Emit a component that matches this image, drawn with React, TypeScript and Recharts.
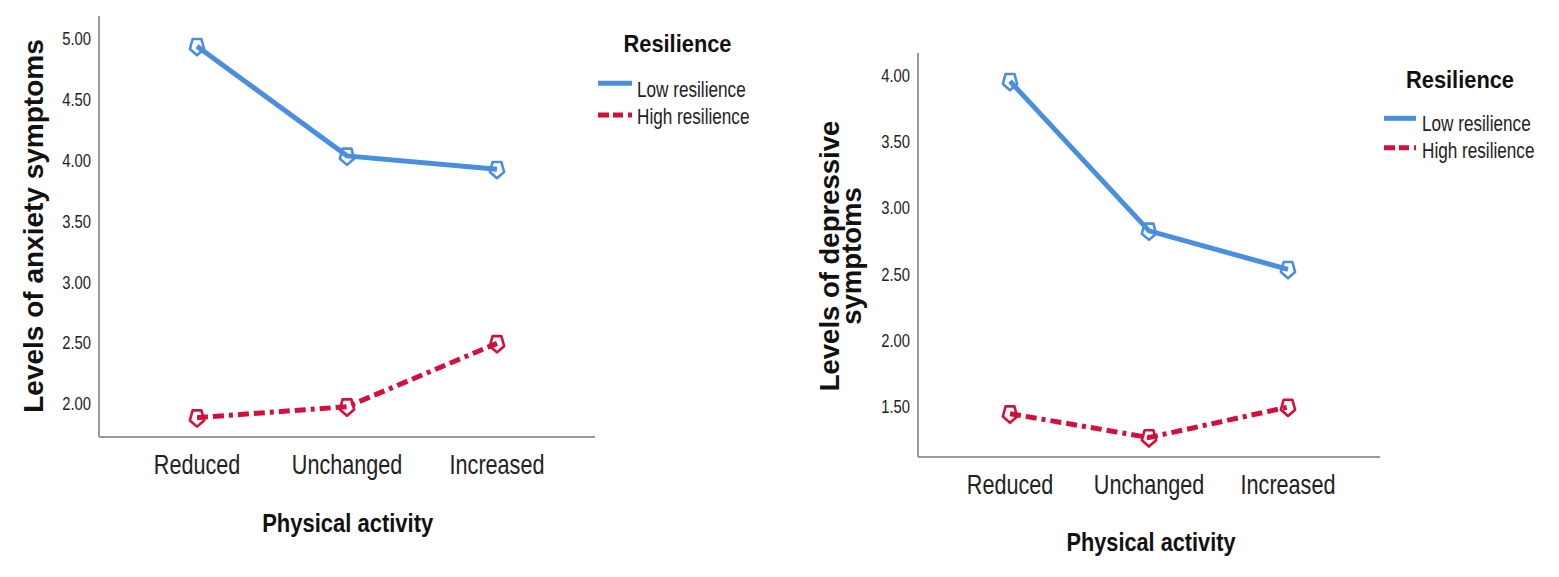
import React from 'react';
import { LineChart, Line, XAxis, YAxis, Legend } from 'recharts';

const categories = ['Reduced', 'Unchanged', 'Increased'];
const seriesNames = ['Low resilience', 'High resilience'];
const anxietyLow = [4.94, 4.04, 3.93];
const anxietyHigh = [1.89, 1.98, 2.5];
const depressLow = [3.96, 2.83, 2.54];
const depressHigh = [1.45, 1.27, 1.5];
const anxietyTicks = [2, 2.5, 3, 3.5, 4, 4.5, 5];
const depressTicks = [1.5, 2, 2.5, 3, 3.5, 4];
const anxietyDomain = [1.731, 5.189];
const depressDomain = [1.123, 4.173];

const anxietyData = categories.map((c, i) => ({ cat: c, low: anxietyLow[i], high: anxietyHigh[i] }));
const depressData = categories.map((c, i) => ({ cat: c, low: depressLow[i], high: depressHigh[i] }));

const BLUE = '#4a8fdf';
const RED = '#d3103c';
const RED_DASH = '11 5 11 5 4 5';
const FONT = '"Liberation Sans", Arial, Helvetica, sans-serif';

type STextProps = {
  x: number; y: number; size: number; weight?: number; sx?: number;
  anchor?: 'start' | 'middle' | 'end'; rotate?: boolean; fill?: string;
  baseline?: string; children: React.ReactNode;
};

const SText = ({ x, y, size, weight = 400, sx = 0.8, anchor = 'middle', rotate = false, fill = '#1a1a1a', baseline, children }: STextProps) => (
  <text
    transform={rotate ? `translate(${x},${y}) rotate(-90) scale(1,${sx})` : `translate(${x},${y}) scale(${sx},1)`}
    x={0}
    y={0}
    textAnchor={anchor}
    dominantBaseline={baseline as any}
    fontSize={size}
    fontWeight={weight}
    fontFamily={FONT}
    fill={fill}
  >
    {children}
  </text>
);

const Pent = ({ cx, cy, color }: { cx: number; cy: number; color: string }) => {
  const rx = 7.5;
  const ry = 9;
  const pts = [90, 162, 234, 306, 18]
    .map((a) => {
      const r = (a * Math.PI) / 180;
      return `${cx + rx * Math.cos(r)},${cy + ry * Math.sin(r)}`;
    })
    .join(' ');
  return <polygon points={pts} fill="none" stroke={color} strokeWidth={2.6} strokeLinejoin="round" />;
};

const makeDot = (color: string) => (p: any) => <Pent key={`d${p.index}`} cx={p.cx} cy={p.cy} color={color} />;

const XTick = (p: any) => (
  <SText x={p.x} y={p.y + 37} size={27} sx={0.8} fill="#222">
    {p.payload.value}
  </SText>
);

const YTick = (p: any) => (
  <SText x={p.x} y={p.y} size={18.5} sx={0.8} anchor="end" baseline="central" fill="#222">
    {Number(p.payload.value).toFixed(2)}
  </SText>
);

type LegendLayout = {
  left: number; top: number; titleX: number; titleY: number;
  lineX1: number; lineX2: number; textX: number;
  rows: { lineY: number; textY: number }[];
};

const makeLegend = (L: LegendLayout) => (props: any) => {
  const payload: any[] = props.payload || [];
  const items = seriesNames.map((name, i) => {
    const found = payload.find((p) => p.value === name);
    return { name, color: found ? found.color : i === 0 ? BLUE : RED, dashed: i === 1 };
  });
  return (
    <svg width={220} height={120} style={{ display: 'block', overflow: 'visible' }}>
      <SText x={L.titleX} y={L.titleY} size={23} weight={700} sx={0.95} fill="#111">
        Resilience
      </SText>
      {items.map((it, i) => (
        <g key={it.name}>
          <line
            x1={L.lineX1}
            x2={L.lineX2}
            y1={L.rows[i].lineY}
            y2={L.rows[i].lineY}
            stroke={it.color}
            strokeWidth={5}
            strokeDasharray={it.dashed ? '11 4 10 5 4' : undefined}
          />
          <SText x={L.textX} y={L.rows[i].textY} size={22} sx={0.78} anchor="start" fill="#222">
            {it.name}
          </SText>
        </g>
      ))}
    </svg>
  );
};

const leftLegend = makeLegend({
  left: 590, top: 20, titleX: 87.5, titleY: 31.7, lineX1: 8, lineX2: 42, textX: 47,
  rows: [{ lineY: 63.3, textY: 76.5 }, { lineY: 95, textY: 104 }],
});
const rightLegend = makeLegend({
  left: 600, top: 55, titleX: 80, titleY: 32.7, lineX1: 4, lineX2: 36, textX: 42,
  rows: [{ lineY: 63.3, textY: 76 }, { lineY: 92.7, textY: 103 }],
});

const axisStyle = { stroke: '#9a9a9a', strokeWidth: 2 };

export default function App() {
  return (
    <div style={{ position: 'absolute', left: 0, top: 0, width: 1559, height: 577, background: '#fff', overflow: 'hidden' }}>
      <div style={{ position: 'absolute', left: 0, top: 0 }}>
        <LineChart width={780} height={577} data={anxietyData} margin={{ top: 16, right: 185, bottom: 110, left: 0 }}>
          <XAxis
            dataKey="cat"
            type="category"
            scale="point"
            padding={{ left: 98, right: 98 }}
            height={30}
            axisLine={axisStyle}
            tickLine={false}
            tickSize={0}
            tickMargin={0}
            tick={XTick}
            interval={0}
            label={{
              content: () => (
                <SText x={347.7} y={531.7} size={26.5} weight={700} sx={0.83} fill="#111">
                  Physical activity
                </SText>
              ),
            }}
          />
          <YAxis
            type="number"
            domain={anxietyDomain}
            ticks={anxietyTicks}
            allowDataOverflow
            width={99}
            axisLine={axisStyle}
            tickLine={false}
            tickSize={0}
            tickMargin={8}
            tick={YTick}
            interval={0}
            label={{
              content: () => (
                <SText x={43} y={226} size={28} weight={700} sx={1} rotate fill="#111">
                  Levels of anxiety symptoms
                </SText>
              ),
            }}
          />
          <Legend
            layout="vertical"
            align="center"
            verticalAlign="middle"
            content={leftLegend}
            wrapperStyle={{ left: 590, top: 20, width: 220, height: 120 }}
          />
          <Line
            dataKey="low"
            name={seriesNames[0]}
            type="linear"
            stroke={BLUE}
            strokeWidth={5}
            dot={makeDot(BLUE)}
            activeDot={false}
            isAnimationActive={false}
          />
          <Line
            dataKey="high"
            name={seriesNames[1]}
            type="linear"
            stroke={RED}
            strokeWidth={5}
            strokeDasharray={RED_DASH}
            dot={makeDot(RED)}
            activeDot={false}
            isAnimationActive={false}
          />
        </LineChart>
      </div>
      <div style={{ position: 'absolute', left: 780, top: 0 }}>
        <LineChart width={779} height={577} data={depressData} margin={{ top: 53, right: 179, bottom: 90, left: 0 }}>
          <XAxis
            dataKey="cat"
            type="category"
            scale="point"
            padding={{ left: 92, right: 92 }}
            height={30}
            axisLine={axisStyle}
            tickLine={false}
            tickSize={0}
            tickMargin={0}
            tick={XTick}
            interval={0}
            label={{
              content: () => (
                <SText x={371} y={551} size={26.5} weight={700} sx={0.82} fill="#111">
                  Physical activity
                </SText>
              ),
            }}
          />
          <YAxis
            type="number"
            domain={depressDomain}
            ticks={depressTicks}
            allowDataOverflow
            width={138}
            axisLine={axisStyle}
            tickLine={false}
            tickSize={0}
            tickMargin={8}
            tick={YTick}
            interval={0}
            label={{
              content: () => (
                <g>
                  <SText x={59} y={256} size={27.5} weight={700} sx={1} rotate fill="#111">
                    Levels of depressive
                  </SText>
                  <SText x={81} y={256} size={27.5} weight={700} sx={1} rotate fill="#111">
                    symptoms
                  </SText>
                </g>
              ),
            }}
          />
          <Legend
            layout="vertical"
            align="center"
            verticalAlign="middle"
            content={rightLegend}
            wrapperStyle={{ left: 600, top: 55, width: 220, height: 120 }}
          />
          <Line
            dataKey="low"
            name={seriesNames[0]}
            type="linear"
            stroke={BLUE}
            strokeWidth={5}
            dot={makeDot(BLUE)}
            activeDot={false}
            isAnimationActive={false}
          />
          <Line
            dataKey="high"
            name={seriesNames[1]}
            type="linear"
            stroke={RED}
            strokeWidth={5}
            strokeDasharray={RED_DASH}
            dot={makeDot(RED)}
            activeDot={false}
            isAnimationActive={false}
          />
        </LineChart>
      </div>
    </div>
  );
}
